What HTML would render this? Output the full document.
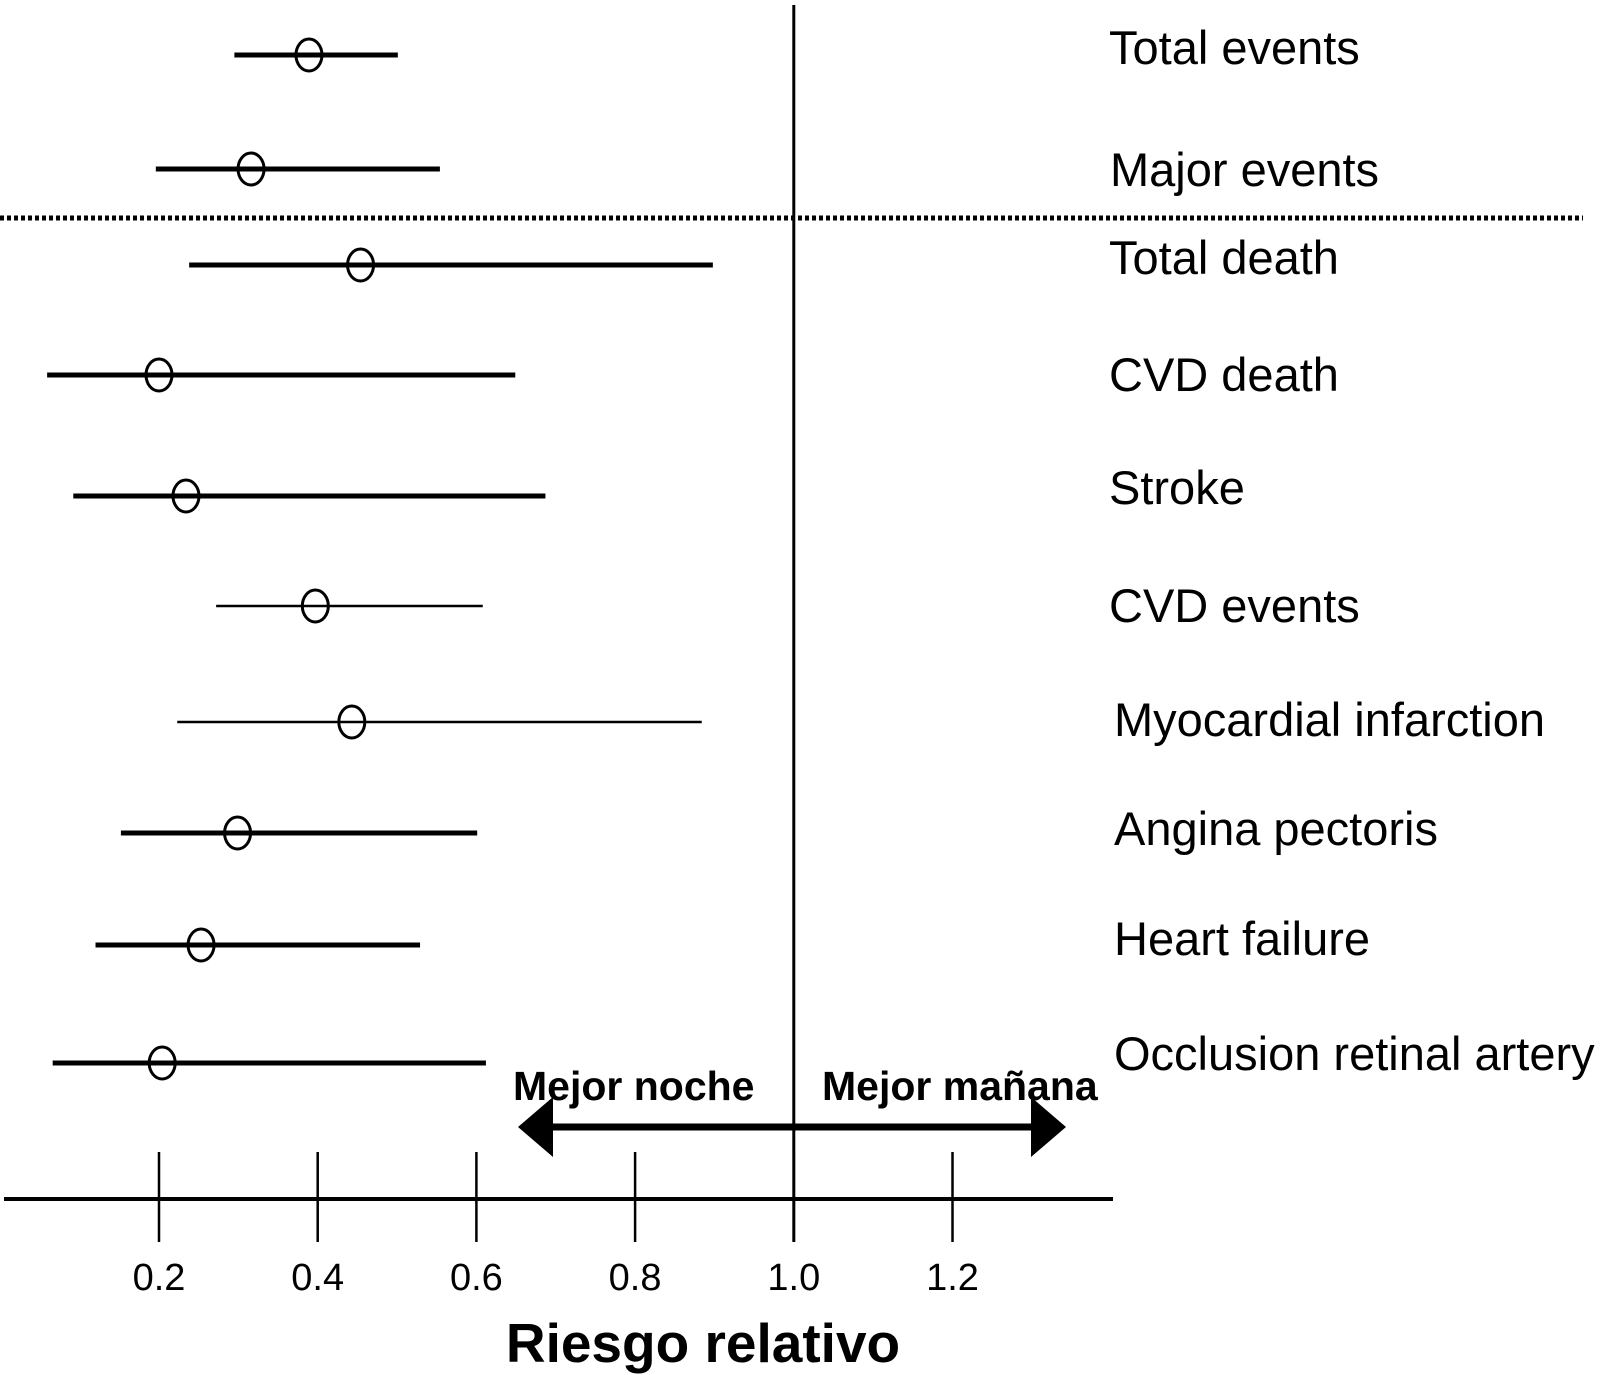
<!DOCTYPE html>
<html><head><meta charset="utf-8"><style>
html,body{margin:0;padding:0;background:#fff;}
svg{display:block;font-family:"Liberation Sans",Arial,sans-serif;}
</style></head><body>
<svg id="chart" width="1618" height="1375" viewBox="0 0 1618 1375" xmlns="http://www.w3.org/2000/svg"></svg>
<script>
const categories = ["Total events","Major events","Total death","CVD death","Stroke","CVD events","Myocardial infarction","Angina pectoris","Heart failure","Occlusion retinal artery"];
const pointValues = [0.389,0.316,0.454,0.200,0.234,0.397,0.443,0.299,0.253,0.204];
const lowerValues = [0.295,0.196,0.238,0.059,0.092,0.272,0.223,0.152,0.120,0.066];
const upperValues = [0.501,0.554,0.898,0.649,0.687,0.608,0.884,0.601,0.529,0.612];
const tickValues = [0.2,0.4,0.6,0.8,1.0,1.2];
const tickLabels = ["0.2","0.4","0.6","0.8","1.0","1.2"];

const NS="http://www.w3.org/2000/svg";
const svg=document.getElementById('chart');
function x(v){return 159+(v-0.2)*793.5;}
const rowY=[55,169,265,375,496,606,722,833,945,1063];
const labelY=[47,169,257,374,487,605,719,828,938,1053];
const labelX=[1109,1110,1109,1109,1109,1109,1114,1114,1114,1114];
const thin=[false,false,false,false,false,true,true,false,false,false];
function mk(tag,attrs){const e=document.createElementNS(NS,tag);for(const k in attrs)e.setAttribute(k,attrs[k]);svg.appendChild(e);return e;}

let ref=mk('line',{x1:x(1.0),x2:x(1.0),y1:5,y2:1242,stroke:'#000','stroke-width':3});



let sep=mk('line',{x1:0,x2:1583,y1:218,y2:218,stroke:'#000','stroke-width':5,'stroke-dasharray':'4 3'});



categories.forEach((c,i)=>{
  const y=rowY[i];
  const l=mk('line',{x1:x(lowerValues[i]),x2:x(upperValues[i]),y1:y,y2:y,stroke:'#000','stroke-width':thin[i]?2.5:5});
  
  
  const e=mk('ellipse',{cx:x(pointValues[i]),cy:y,rx:13,ry:16,fill:'none',stroke:'#000','stroke-width':3});
  
  
  const t=mk('text',{x:labelX[i],y:labelY[i]+17,'font-size':47,fill:'#000'});
  t.textContent=c;
  
  
});

let ax=mk('line',{x1:4,x2:1113,y1:1199,y2:1199,stroke:'#000','stroke-width':4});


tickValues.forEach((v,i)=>{
  const t=mk('line',{x1:x(v),x2:x(v),y1:1152,y2:1242,stroke:'#000','stroke-width':2.5});
  
  
  const lb=mk('text',{x:x(v),y:1290,'font-size':38,'text-anchor':'middle',fill:'#000'});
  lb.textContent=tickLabels[i];
  
  
});

let ti=mk('text',{x:703,y:1362,'font-size':55,'font-weight':'bold','text-anchor':'middle',fill:'#000'});
ti.textContent='Riesgo relativo';



let ar=mk('line',{x1:545,x2:1040,y1:1127,y2:1127,stroke:'#000','stroke-width':7});


let ah1=mk('polygon',{points:'518,1127 553,1097 553,1157',fill:'#000'});


let ah2=mk('polygon',{points:'1066,1127 1031,1097 1031,1157',fill:'#000'});


let n1=mk('text',{x:513,y:1100,'font-size':41,'font-weight':'bold',fill:'#000'});
n1.textContent='Mejor noche';


let n2=mk('text',{x:822,y:1100,'font-size':41,'font-weight':'bold',fill:'#000'});
n2.textContent='Mejor mañana';


</script>
</body></html>
